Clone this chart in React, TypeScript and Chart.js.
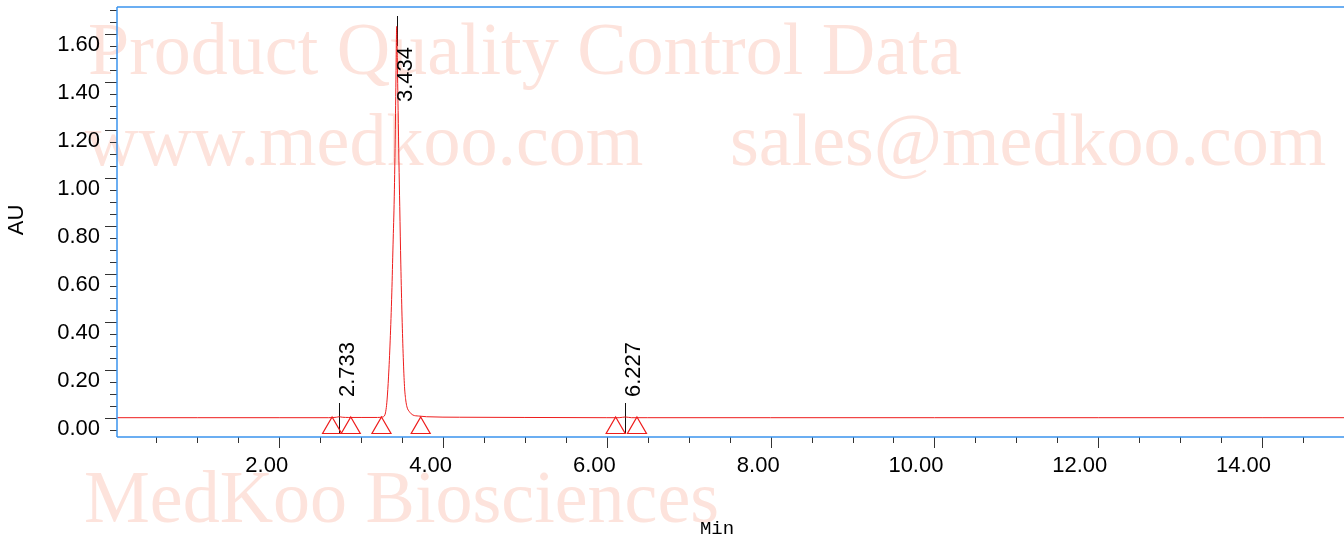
import React, { useEffect, useRef } from 'react';
import { Chart, registerables } from 'chart.js';

Chart.register(...registerables);

// Chromatogram trace (retention time in minutes, absorbance in AU)
const retentionMin = [
  0.02, 1.0, 2.0, 2.6, 2.7, 2.733, 2.77, 2.85, 3.0, 3.2, 3.26, 3.29, 3.305, 3.317,
  3.335, 3.355, 3.375, 3.39, 3.405, 3.418, 3.428, 3.434, 3.442, 3.452, 3.462, 3.472,
  3.485, 3.5, 3.515, 3.53, 3.545, 3.56, 3.59, 3.634, 3.7, 3.8, 4.2, 5.0, 6.0, 6.15,
  6.227, 6.3, 6.5, 8.0, 10.0, 12.0, 14.0, 15.0,
];
const absorbanceAU = [
  0.0, 0.0, 0.0, 0.0, 0.002, 0.004, 0.002, 0.001, 0.001, 0.001, 0.003, 0.011, 0.035, 0.074,
  0.17, 0.32, 0.52, 0.72, 0.92, 1.2, 1.48, 1.63, 1.5, 1.28, 1.07, 0.88,
  0.64, 0.42, 0.25, 0.13, 0.074, 0.045, 0.025, 0.011, 0.007, 0.004, 0.002, 0.001, 0.0, 0.0,
  0.003, 0.0, 0.0, 0.0, 0.0, 0.0, 0.0, 0.0,
];

// Labelled peaks
const peakTimes = [2.733, 3.434, 6.227];
const peakLabels = ['2.733', '3.434', '6.227'];

// Integration start / end markers (minutes)
const markerTimes = [2.646, 2.874, 3.249, 3.728, 6.108, 6.368];
const markerLevelAU = [-0.043, -0.043, -0.043, -0.043, -0.043, -0.043];

// Axes
const xMin = 0.02;
const xMax = 15.0;
const yMin = -0.0804;
const yMax = 1.711;
const xTickValues = [2, 4, 6, 8, 10, 12, 14];
const xTickLabels = ['2.00', '4.00', '6.00', '8.00', '10.00', '12.00', '14.00'];
const yTickValues = [0, 0.2, 0.4, 0.6, 0.8, 1.0, 1.2, 1.4, 1.6];
const yTickLabels = ['0.00', '0.20', '0.40', '0.60', '0.80', '1.00', '1.20', '1.40', '1.60'];
const xMinorStep = 0.5;
const yMinorStep = 0.05;

const RED = '#ee1c1c';
const BLUE = '#3b94ee';
const WATERMARK = '#fde3dc';

const decorPlugin = {
  id: 'decor',
  beforeDraw(chart: any) {
    const ctx = chart.ctx;
    ctx.save();
    ctx.fillStyle = WATERMARK;
    ctx.textAlign = 'left';
    ctx.textBaseline = 'alphabetic';
    ctx.font = '74px "Liberation Serif"';
    ctx.fillText('Product Quality Control Data', 88, 74);
    ctx.fillText('www.medkoo.com', 85, 165);
    ctx.fillText('sales@medkoo.com', 730, 165);
    ctx.fillText('MedKoo Biosciences', 84, 522);
    ctx.restore();
  },
  beforeDatasetsDraw(chart: any) {
    const ctx = chart.ctx;
    const xs = chart.scales.x;
    const ys = chart.scales.y;
    const area = chart.chartArea;
    ctx.save();
    ctx.strokeStyle = '#111';
    ctx.lineWidth = 1;
    peakTimes.forEach((t) => {
      const px = Math.round(xs.getPixelForValue(t)) + 0.5;
      const idx = retentionMin.indexOf(t);
      const apex = ys.getPixelForValue(idx >= 0 ? absorbanceAU[idx] : 0);
      ctx.beginPath();
      if (apex - area.top < 150) {
        ctx.moveTo(px, area.top + 9);
        ctx.lineTo(px, area.top + 39);
      } else {
        ctx.moveTo(px, area.bottom - 4);
        ctx.lineTo(px, area.bottom - 34);
      }
      ctx.stroke();
    });
    ctx.restore();
  },
  afterDraw(chart: any) {
    const ctx = chart.ctx;
    const xs = chart.scales.x;
    const ys = chart.scales.y;
    const area = chart.chartArea;
    ctx.save();
    // peak labels
    ctx.fillStyle = '#000';
    ctx.font = '22px "Liberation Sans"';
    ctx.textAlign = 'left';
    ctx.textBaseline = 'alphabetic';
    peakTimes.forEach((t, i) => {
      const px = xs.getPixelForValue(t);
      const idx = retentionMin.indexOf(t);
      const apex = ys.getPixelForValue(idx >= 0 ? absorbanceAU[idx] : 0);
      const startY = apex - area.top < 150 ? area.top + 95 : area.bottom - 40;
      ctx.save();
      ctx.translate(px + 15, startY);
      ctx.rotate(-Math.PI / 2);
      ctx.fillText(peakLabels[i], 0, 0);
      ctx.restore();
    });

    // tick marks
    ctx.strokeStyle = '#333';
    ctx.lineWidth = 1;
    ctx.beginPath();
    const nY = Math.round(yMax / yMinorStep);
    for (let k = -1; k <= nY; k++) {
      const v = k * yMinorStep;
      if (v < yMin || v > yMax) continue;
      const py = Math.round(ys.getPixelForValue(v)) + 0.5;
      const major = k % 4 === 0;
      ctx.moveTo(area.left - (major ? 12 : 7), py);
      ctx.lineTo(area.left, py);
    }
    const nX = Math.round(xMax / xMinorStep);
    for (let k = 1; k <= nX; k++) {
      const v = k * xMinorStep;
      if (v < xMin || v > xMax) continue;
      const px = Math.round(xs.getPixelForValue(v)) + 0.5;
      const major = k % 4 === 0;
      ctx.moveTo(px, area.bottom);
      ctx.lineTo(px, area.bottom + (major ? 11 : 6));
    }
    ctx.stroke();

    // axis frame lines
    ctx.strokeStyle = BLUE;
    ctx.lineWidth = 1.5;
    ctx.beginPath();
    ctx.moveTo(area.left, area.top);
    ctx.lineTo(area.left, area.bottom);
    ctx.moveTo(area.left, area.bottom);
    ctx.lineTo(chart.width, area.bottom);
    ctx.moveTo(area.left, area.top);
    ctx.lineTo(chart.width, area.top);
    ctx.stroke();

    // axis titles
    ctx.fillStyle = '#000';
    ctx.font = '19px "Liberation Mono"';
    ctx.textAlign = 'center';
    ctx.textBaseline = 'alphabetic';
    ctx.fillText('Min', 717, 534);
    ctx.font = '22px "Liberation Sans"';
    ctx.save();
    ctx.translate(16.5, 220);
    ctx.rotate(-Math.PI / 2);
    ctx.textBaseline = 'middle';
    ctx.fillText('AU', 0, 0);
    ctx.restore();
    ctx.restore();
  },
};

export default function App() {
  const canvasRef = useRef<HTMLCanvasElement | null>(null);

  useEffect(() => {
    if (!canvasRef.current) return;
    const trace = retentionMin.map((t, i) => ({ x: t, y: absorbanceAU[i] }));
    const markers = markerTimes.map((t, i) => ({ x: t, y: markerLevelAU[i] }));
    const tickGrid = {
      display: true,
      drawOnChartArea: false,
      color: 'rgba(0,0,0,0)',
      tickColor: 'rgba(0,0,0,0)',
      tickLength: 12,
    };
    const chart = new Chart(canvasRef.current, {
      type: 'line',
      data: {
        datasets: [
          {
            type: 'line',
            data: trace,
            borderColor: RED,
            borderWidth: 1,
            pointRadius: 0,
            cubicInterpolationMode: 'monotone',
            fill: false,
          } as any,
          {
            type: 'scatter',
            data: markers,
            showLine: false,
            pointStyle: 'triangle',
            pointRadius: 11,
            pointBorderColor: RED,
            pointBackgroundColor: 'rgba(255,255,255,0)',
            pointBorderWidth: 1.2,
          } as any,
        ],
      },
      options: {
        animation: false,
        responsive: false,
        maintainAspectRatio: false,
        devicePixelRatio: 1,
        layout: { autoPadding: false, padding: { top: 7, right: 0, left: 0, bottom: 0 } },
        plugins: { legend: { display: false }, tooltip: { enabled: false } },
        scales: {
          x: {
            type: 'linear',
            min: xMin,
            max: xMax,
            afterBuildTicks: (s: any) => {
              s.ticks = xTickValues.map((v) => ({ value: v }));
            },
            afterFit: (s: any) => {
              s.height = 101;
              s.paddingLeft = 0;
              s.paddingRight = 0;
              s.paddingTop = 0;
              s.paddingBottom = 0;
            },
            ticks: {
              autoSkip: false,
              maxRotation: 0,
              padding: 4,
              align: 'end',
              labelOffset: 9,
              color: '#000',
              font: { family: 'Liberation Sans', size: 22 },
              callback: (_v: any, i: number) => xTickLabels[i],
            },
            grid: tickGrid,
            border: { display: false },
          },
          y: {
            type: 'linear',
            min: yMin,
            max: yMax,
            afterBuildTicks: (s: any) => {
              s.ticks = yTickValues.map((v) => ({ value: v }));
            },
            afterFit: (s: any) => {
              s.width = 117;
              s.paddingLeft = 0;
              s.paddingRight = 0;
              s.paddingTop = 0;
              s.paddingBottom = 0;
            },
            ticks: {
              autoSkip: false,
              padding: 5,
              labelOffset: 11,
              color: '#000',
              font: { family: 'Liberation Sans', size: 22 },
              callback: (_v: any, i: number) => yTickLabels[i],
            },
            grid: tickGrid,
            border: { display: false },
          },
        },
      } as any,
      plugins: [decorPlugin],
    });
    return () => chart.destroy();
  }, []);

  return (
    <div style={{ position: 'absolute', left: 0, top: 0, width: 1344, height: 538, background: '#fff' }}>
      <canvas ref={canvasRef} width={1344} height={538} style={{ display: 'block', width: 1344, height: 538 }} />
    </div>
  );
}
